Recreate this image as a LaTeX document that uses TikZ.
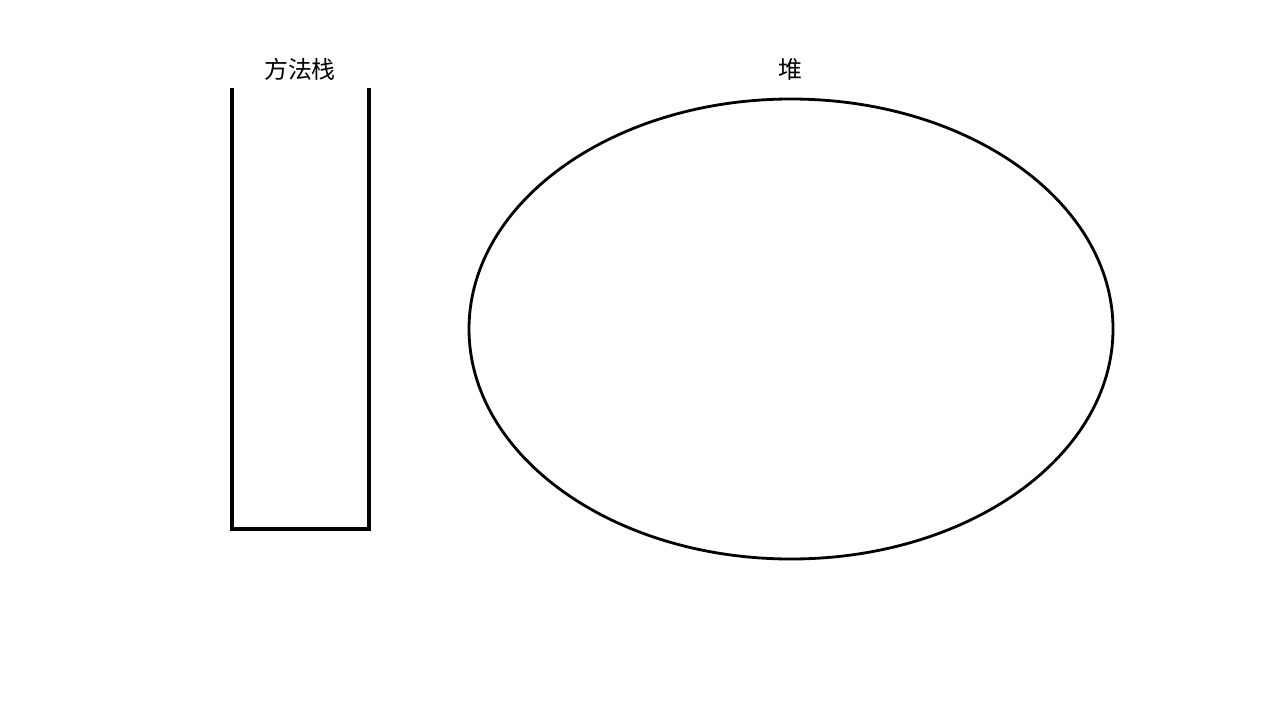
\documentclass[tikz,border=0pt]{standalone}
\usepackage{fontspec}
\newfontfamily\cjk{Noto Sans CJK SC}

\begin{document}
\begin{tikzpicture}[x=0.02cm,y=-0.02cm]
\useasboundingbox[fill=white] (0,0) rectangle (1280,720);
\draw[line width=1.9pt] (232,88)--(232,529)--(369,529)--(369,88);
\node (stack) at (300,69) {\cjk\fontsize{13.6pt}{16pt}\selectfont 方法栈};
\draw[line width=1.6pt] (791,329) ellipse [x radius=322, y radius=230];
\node (heap) at (790,69) {\cjk\fontsize{13.6pt}{16pt}\selectfont 堆};
\end{tikzpicture}
\end{document}
